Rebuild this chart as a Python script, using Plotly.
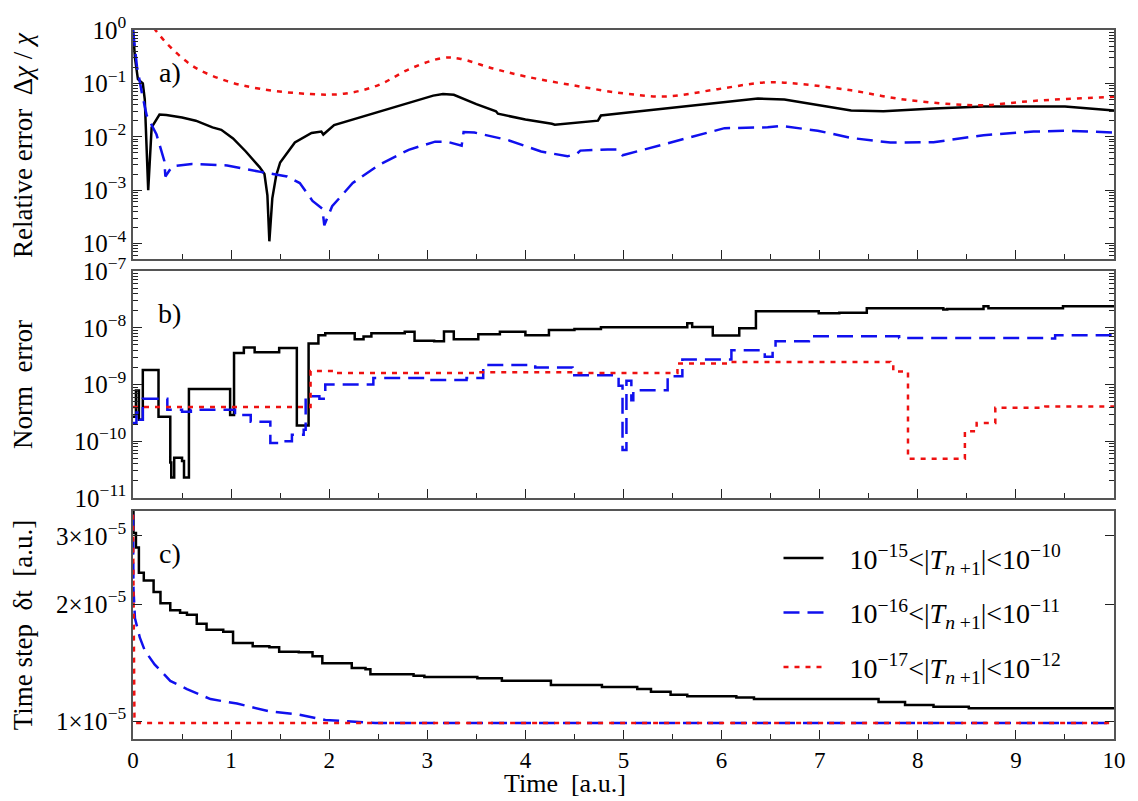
import plotly.graph_objects as go
import numpy as np

# ---------------- data ----------------
# panel a: relative error
ta_k = [0, 0.02, 0.05, 0.08, 0.1, 0.12, 0.155, 0.19, 0.24, 0.27, 0.34, 0.5, 0.64, 0.81, 0.9, 1.02, 1.15, 1.29, 1.34, 1.37,
        1.39, 1.42, 1.46, 1.5, 1.65, 1.82, 1.92, 1.94, 2.05, 2.49, 2.83, 3.06, 3.16, 3.27, 3.5, 3.7, 3.72, 4.0, 4.27, 4.3,
        4.74, 4.77, 5.0, 5.62, 5.96, 6.37, 6.64, 6.98, 7.32, 7.65, 8.16, 8.67, 9.5, 10]
va_k = [1.0, 0.3, 0.12, 0.11, 0.1, 0.05, 0.001, 0.015, 0.022, 0.026, 0.0255, 0.023, 0.020, 0.015, 0.0135, 0.0093, 0.0053,
        0.0027, 0.002, 0.0008, 0.00011, 0.0007, 0.0019, 0.0033, 0.0078, 0.0118, 0.0125, 0.011, 0.0166, 0.029, 0.044,
        0.059, 0.063, 0.061, 0.041, 0.030, 0.027, 0.021, 0.0175, 0.0168, 0.020, 0.025, 0.028, 0.037, 0.044, 0.052,
        0.050, 0.039, 0.031, 0.030, 0.034, 0.037, 0.037, 0.031]

ta_b = [0, 0.04, 0.09, 0.14, 0.24, 0.32, 0.33, 0.4, 0.6, 0.96, 1.3, 1.57, 1.7, 1.83, 1.93, 1.95, 2.03, 2.24, 2.51, 2.81,
        3.08, 3.2, 3.35, 3.37, 3.48, 3.82, 4.16, 4.43, 4.53, 4.56, 4.84, 4.94, 4.99, 5.62, 6.03, 6.47, 6.6, 6.98, 7.32,
        7.72, 8.16, 8.67, 9.18, 9.52, 10]
va_b = [1.0, 0.21, 0.067, 0.025, 0.011, 0.0035, 0.0018, 0.0028, 0.0031, 0.0029, 0.0022, 0.0018, 0.00136, 0.00063,
        0.00045, 0.00022, 0.0005, 0.00136, 0.003, 0.0057, 0.0081, 0.0081, 0.0068, 0.0123, 0.012, 0.0087, 0.0053,
        0.0043, 0.0049, 0.0055, 0.0058, 0.0058, 0.0045, 0.0093, 0.0145, 0.015, 0.016, 0.013, 0.0095, 0.0078, 0.0079,
        0.0107, 0.0125, 0.013, 0.012]

ta_r = [0.15, 0.24, 0.39, 0.63, 0.96, 1.3, 1.81, 2.15, 2.49, 2.83, 3.16, 3.33, 3.67, 4.0, 4.5, 5.0, 5.45, 5.96, 6.47,
        6.81, 7.32, 7.82, 8.33, 8.67, 9.18, 10]
va_r = [1.6, 0.94, 0.46, 0.20, 0.11, 0.079, 0.063, 0.064, 0.091, 0.19, 0.30, 0.29, 0.19, 0.135, 0.091, 0.065, 0.057,
        0.078, 0.105, 0.097, 0.074, 0.051, 0.041, 0.039, 0.047, 0.056]

# panel b: norm error (step data)
tb_k = [0, 0.03, 0.06, 0.1, 0.26, 0.38, 0.39, 0.42, 0.5, 0.52, 0.57, 0.99, 1.03, 1.13, 1.24, 1.49, 1.67, 1.79, 1.89,
        1.96, 2.26, 2.35, 2.43, 2.77, 2.87, 3.07, 3.17, 3.27, 3.52, 3.74, 4.0, 4.24, 4.5, 4.77, 5.65, 5.7, 5.91, 6.18,
        6.35, 6.99, 7.2, 7.48, 8.26, 8.3, 8.67, 8.72, 9.48, 10]
vb_k = [2.7e-10, 7.8e-10, 2.4e-10, 1.8e-9, 2.7e-10, 4.2e-11, 2.3e-11, 5.1e-11, 4.5e-11, 2.3e-11, 8.3e-10, 2.9e-10,
        3.6e-9, 4.5e-9, 3.7e-9, 4.4e-9, 1.9e-10, 5.3e-9, 7.4e-9, 8e-9, 6.3e-9, 7e-9, 8e-9, 8.5e-9, 5.9e-9, 5.8e-9,
        8.6e-9, 6.3e-9, 7.7e-9, 8.5e-9, 7.4e-9, 9.1e-9, 9.5e-9, 1.02e-8, 1.2e-8, 1.03e-8, 7.3e-9, 9.8e-9, 1.95e-8,
        1.8e-8, 1.85e-8, 2.2e-8, 2.1e-8, 2.15e-8, 2.4e-8, 2.2e-8, 2.4e-8, 2.5e-8]

tb_b = [0, 0.035, 0.07, 0.1, 0.35, 0.5, 0.59, 1.04, 1.2, 1.4, 1.53, 1.62, 1.74, 1.76, 1.9, 1.96, 2.45, 2.99, 3.4, 3.57,
        4.1, 4.48, 4.95, 4.99, 5.03, 5.08, 5.1, 5.45, 5.6, 6.1, 6.44, 6.52, 6.55, 6.89, 7.81, 9.3, 9.4, 10]
vb_b = [2.1e-10, 3.2e-10, 2.4e-10, 5.6e-10, 3.6e-10, 3.3e-10, 3.6e-10, 2.9e-10, 2.2e-10, 9.3e-11, 1.0e-10, 1.3e-10,
        1.6e-10, 6.2e-10, 5.6e-10, 1.0e-9, 1.3e-9, 1.2e-9, 1.3e-9, 2.2e-9, 2.0e-9, 1.45e-9, 9.5e-10, 7e-11, 1.17e-9,
        5.3e-10, 7.9e-10, 1.4e-9, 2.75e-9, 4e-9, 3.1e-9, 4e-9, 5.8e-9, 7.1e-9, 6.6e-9, 6.5e-9, 7.4e-9, 7.8e-9]

tb_r = [0, 1.81, 2.06, 3.5, 4.5, 5.55, 6.07, 7.72, 7.75, 7.9, 8.48, 8.6, 8.79, 9.3, 10]
vb_r = [4e-10, 1.73e-9, 1.6e-9, 1.65e-9, 1.6e-9, 2.35e-9, 2.5e-9, 2.3e-9, 1.7e-9, 4.9e-11, 1.5e-10, 2.1e-10, 3.9e-10,
        4.1e-10, 4e-10]

# panel c: time step
tc_k = [0, 0.005, 0.03, 0.06, 0.11, 0.21, 0.28, 0.38, 0.48, 0.55, 0.65, 0.75, 0.92, 1.02, 1.22, 1.39, 1.49, 1.69, 1.83,
        1.93, 2.23, 2.37, 2.42, 2.86, 2.97, 3.51, 3.76, 4.26, 4.78, 5.14, 5.28, 5.48, 5.65, 6.15, 6.33, 7.6, 7.87, 8.16,
        8.52, 10]
vc_k = [3.46e-5, 3.05e-5, 2.8e-5, 2.41e-5, 2.3e-5, 2.15e-5, 2.01e-5, 1.93e-5, 1.9e-5, 1.88e-5, 1.78e-5, 1.72e-5,
        1.70e-5, 1.59e-5, 1.56e-5, 1.55e-5, 1.51e-5, 1.505e-5, 1.47e-5, 1.41e-5, 1.37e-5, 1.36e-5, 1.32e-5, 1.31e-5,
        1.30e-5, 1.29e-5, 1.27e-5, 1.24e-5, 1.225e-5, 1.21e-5, 1.19e-5, 1.17e-5, 1.16e-5, 1.15e-5, 1.14e-5, 1.12e-5,
        1.10e-5, 1.09e-5, 1.08e-5, 1.08e-5]

tc_b = [0, 0.005, 0.02, 0.07, 0.12, 0.22, 0.38, 0.55, 0.79, 1.06, 1.39, 1.69, 1.96, 2.23, 2.47, 10]
vc_b = [3.4e-5, 2.19e-5, 1.84e-5, 1.64e-5, 1.52e-5, 1.40e-5, 1.27e-5, 1.21e-5, 1.14e-5, 1.11e-5, 1.06e-5, 1.04e-5,
        1.007e-5, 1.0e-5, 9.9e-6, 9.9e-6]

tc_r = [0, 0.005, 0.015, 0.03, 10]
vc_r = [3.4e-5, 2.0e-5, 1.0e-5, 9.9e-6, 9.9e-6]

legend_names = [
    "&nbsp;&nbsp;&nbsp;10<sup>−15</sup><|<i>T</i><sub><i>n</i> +1</sub>|<10<sup>−10</sup>",
    "&nbsp;&nbsp;&nbsp;10<sup>−16</sup><|<i>T</i><sub><i>n</i> +1</sub>|<10<sup>−11</sup>",
    "&nbsp;&nbsp;&nbsp;10<sup>−17</sup><|<i>T</i><sub><i>n</i> +1</sub>|<10<sup>−12</sup>",
]

x_ticks = list(range(0, 11))
a_tickvals = [1e0, 1e-1, 1e-2, 1e-3, 1e-4]
a_ticktext = ["10<sup>0</sup>", "10<sup>−1</sup>", "10<sup>−2</sup>", "10<sup>−3</sup>", "10<sup>−4</sup>"]
b_tickvals = [1e-7, 1e-8, 1e-9, 1e-10, 1e-11]
b_ticktext = ["10<sup>−7</sup>", "10<sup>−8</sup>", "10<sup>−9</sup>", "10<sup>−10</sup>", "10<sup>−11</sup>"]
c_tickvals = [1e-5, 2e-5, 3e-5]
c_ticktext = ["1×10<sup>−5</sup>", "2×10<sup>−5</sup>", "3×10<sup>−5</sup>"]

a_minor = [k * 10.0 ** d for d in range(-5, 0) for k in range(2, 10)]
b_minor = [k * 10.0 ** d for d in range(-12, -7) for k in range(2, 10)]

# ---------------- styles ----------------
FONT = "Liberation Serif, Times New Roman, serif"
BLACK = dict(color="black", width=2.5)
BLUE = dict(color="#1010ee", width=2.5, dash="16px,8px")
RED = dict(color="#ee1111", width=2.5, dash="5px,6px")

fig = go.Figure()

# panel a (xaxis3/yaxis3)
fig.add_trace(go.Scatter(x=ta_k, y=va_k, mode="lines", line=BLACK, xaxis="x3", yaxis="y3", showlegend=False))
fig.add_trace(go.Scatter(x=ta_b, y=va_b, mode="lines", line=BLUE, xaxis="x3", yaxis="y3", showlegend=False))
fig.add_trace(go.Scatter(x=ta_r, y=va_r, mode="lines", line=dict(RED, shape="spline"), xaxis="x3", yaxis="y3",
                         showlegend=False))
# panel b
fig.add_trace(go.Scatter(x=tb_k, y=vb_k, mode="lines", line=dict(BLACK, shape="hv"), xaxis="x2", yaxis="y2",
                         showlegend=False))
fig.add_trace(go.Scatter(x=tb_b, y=vb_b, mode="lines", line=dict(BLUE, shape="hv"), xaxis="x2", yaxis="y2",
                         showlegend=False))
fig.add_trace(go.Scatter(x=tb_r, y=vb_r, mode="lines", line=dict(RED, shape="hv"), xaxis="x2", yaxis="y2",
                         showlegend=False))
# panel c
fig.add_trace(go.Scatter(x=tc_k, y=vc_k, mode="lines", line=dict(BLACK, shape="hv"), xaxis="x", yaxis="y",
                         name=legend_names[0], legendgroup="g1"))
fig.add_trace(go.Scatter(x=tc_b, y=vc_b, mode="lines", line=BLUE, xaxis="x", yaxis="y",
                         name=legend_names[1], legendgroup="g2"))
fig.add_trace(go.Scatter(x=tc_r, y=vc_r, mode="lines", line=RED, xaxis="x", yaxis="y",
                         name=legend_names[2], legendgroup="g3"))

AXC = "#555555"
TICKF = dict(family=FONT, size=25, color="black")
common_x = dict(range=[0, 10], showline=True, linecolor=AXC, linewidth=1.5, mirror=True, ticks="inside",
                ticklen=9, tickcolor="#222", tickwidth=1.2, tickvals=x_ticks, showgrid=False, zeroline=False,
                minor=dict(ticks="inside", ticklen=5, dtick=0.5, tick0=0, tickcolor="#222", showgrid=False),
                tickfont=dict(family=FONT, size=23, color="black"))
common_y = dict(type="log", showline=True, linecolor=AXC, linewidth=1.5, mirror="allticks", ticks="inside",
                ticklen=9, tickcolor="#222", tickwidth=1.2, showgrid=False, zeroline=False,
                tickfont=TICKF)
minor_y = dict(ticks="inside", ticklen=5, tickcolor="#222", tickwidth=1, showgrid=False)

TITLEF = dict(family=FONT, size=27, color="black")
TX = (22 - 133) / 985.0
LBLF = dict(family=FONT, size=28, color="black")
LX = (170 - 133) / 985.0


def label(txt, ypix):
    return dict(text=txt, xref="paper", yref="paper", x=LX, y=(739 - ypix) / 721.0, xanchor="center",
                yanchor="middle", showarrow=False, font=LBLF)


def ytitle(txt, ycenter):
    return dict(text=txt, xref="paper", yref="paper", x=TX, y=ycenter, xanchor="center", yanchor="middle",
                textangle=-90, showarrow=False, font=TITLEF)


fig.update_layout(
    width=1138, height=801,
    margin=dict(l=133, r=20, t=18, b=62),
    paper_bgcolor="white", plot_bgcolor="white",
    font=dict(family=FONT, size=24, color="black"),
    xaxis=dict(common_x, domain=[0, 1], anchor="y", showticklabels=True),
    xaxis2=dict(common_x, domain=[0, 1], anchor="y2", showticklabels=False),
    xaxis3=dict(common_x, domain=[0, 1], anchor="y3", showticklabels=False),
    yaxis=dict(common_y, domain=[0, 0.322], anchor="x", range=[np.log10(9.0e-6), np.log10(3.48e-5)],
               tickvals=c_tickvals, ticktext=c_ticktext),
    yaxis2=dict(common_y, domain=[0.340, 0.660], anchor="x2", range=[-11, -7],
                tickvals=b_tickvals, ticktext=b_ticktext, minor=dict(minor_y, tickvals=b_minor)),
    yaxis3=dict(common_y, domain=[0.677, 1.0], anchor="x3", range=[-4.29, 0],
                tickvals=a_tickvals, ticktext=a_ticktext, minor=dict(minor_y, tickvals=a_minor)),
    legend=dict(x=0.658, y=0.29, xanchor="left", yanchor="top", bgcolor="rgba(0,0,0,0)",
                font=dict(family=FONT, size=28, color="black"), traceorder="grouped", tracegroupgap=15,
                itemwidth=40),
    annotations=[
        label("a)", 61),
        label("b)", 306),
        label("c)", 550),
        dict(text="Time  [a.u.]", xref="paper", yref="paper", x=0.44, y=-0.086, yanchor="bottom",
             showarrow=False, font=dict(family=FONT, size=26, color="black")),
        ytitle("Relative error  Δ<i>χ</i> / <i>χ</i>", (0.677 + 1.0) / 2),
        ytitle("Norm  error", 0.5),
        ytitle("Time step  δt  [a.u.]", 0.161),
    ],
)

fig.write_html("out.html")
